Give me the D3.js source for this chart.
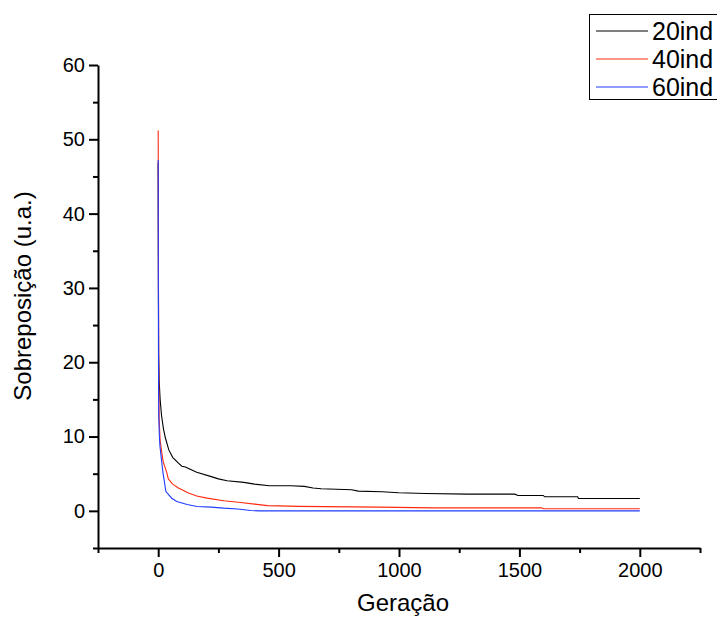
<!DOCTYPE html>
<html>
<head>
<meta charset="utf-8">
<script src="https://cdnjs.cloudflare.com/ajax/libs/d3/7.8.5/d3.min.js"></script>
<style>
  body { margin: 0; background: #fff; }
  text { font-family: "Liberation Sans", Arial, sans-serif; fill: #000; }
</style>
</head>
<body>
<div id="chart"></div>
<script>
// series data (geração, sobreposição)
var gen20 = [0, 1, 2, 4, 8, 14, 22, 30, 44, 60, 85, 98, 113, 133, 160, 217, 250, 286, 356, 400, 461, 552, 607, 643, 677, 803, 831, 929, 999, 1110, 1285, 1481, 1494, 1599, 1605, 1742, 1745, 2000];
var val20 = [46.8, 30, 21, 17.5, 15, 12.8, 11, 9.8, 8.2, 7.2, 6.4, 6.0, 5.9, 5.6, 5.2, 4.64, 4.3, 4.05, 3.83, 3.6, 3.38, 3.38, 3.29, 3.07, 2.97, 2.84, 2.66, 2.57, 2.43, 2.34, 2.25, 2.25, 2.07, 2.07, 1.89, 1.89, 1.66, 1.66];

var gen40 = [0, 1, 2, 4, 8, 15, 21, 36, 42, 60, 84, 126, 160, 203, 272, 342, 400, 454, 586, 915, 1145, 1592, 1600, 2000];
var val40 = [51.2, 32, 20, 12.3, 9.5, 7.8, 6.6, 5.1, 4.3, 3.6, 3.07, 2.39, 2.0, 1.71, 1.35, 1.12, 0.9, 0.7, 0.6, 0.5, 0.4, 0.4, 0.28, 0.28];

var gen60 = [0, 1, 2, 5, 7, 11, 20, 32, 56, 77, 120, 161, 220, 272, 330, 384, 420, 2000];
var val60 = [47.2, 22, 13, 10, 8.8, 7.6, 5.1, 2.6, 1.7, 1.26, 0.85, 0.58, 0.5, 0.36, 0.25, 0.04, 0, 0];

var seriesNames = ["20ind", "40ind", "60ind"];
var seriesColors = ["#000000", "#ff2a10", "#1f3cff"];

var xTicksMajor = [0, 500, 1000, 1500, 2000];
var xTicksMinor = [-250, 250, 750, 1250, 1750, 2250];
var yTicksMajor = [0, 10, 20, 30, 40, 50, 60];
var yTicksMinor = [-5, 5, 15, 25, 35, 45, 55];

var series = [
  d3.zip(gen20, val20),
  d3.zip(gen40, val40),
  d3.zip(gen60, val60)
];

var svg = d3.select("#chart").append("svg")
    .attr("width", 717)
    .attr("height", 618);

var x = d3.scaleLinear().domain([-250, 2250]).range([98, 700]);
var y = d3.scaleLinear().domain([-5, 60]).range([548, 65]);

// lines
var line = d3.line()
    .x(function(d) { return x(d[0]); })
    .y(function(d) { return y(d[1]); });

svg.selectAll(".serie")
    .data(series)
  .enter().append("path")
    .attr("class", "serie")
    .attr("d", line)
    .attr("fill", "none")
    .attr("stroke", function(d, i) { return seriesColors[i]; })
    .attr("stroke-width", 1.1);

// x axis
var xAxis = svg.append("g").attr("transform", "translate(0,548)");
xAxis.call(d3.axisBottom(x).tickValues(xTicksMajor).tickFormat(d3.format("d"))
    .tickSize(9).tickSizeOuter(0).tickPadding(6));
xAxis.append("g")
    .call(d3.axisBottom(x).tickValues(xTicksMinor).tickSize(5).tickFormat(""))
    .select(".domain").remove();

// y axis
var yAxis = svg.append("g").attr("transform", "translate(98,0)");
yAxis.call(d3.axisLeft(y).tickValues(yTicksMajor).tickSize(9).tickSizeOuter(0).tickPadding(4));
yAxis.append("g")
    .call(d3.axisLeft(y).tickValues(yTicksMinor).tickSize(5).tickFormat(""))
    .select(".domain").remove();

svg.selectAll(".domain, .tick line")
    .attr("stroke", "#000")
    .attr("stroke-width", 2);
svg.selectAll(".tick text")
    .style("font-family", "'Liberation Sans', Arial, sans-serif")
    .style("font-size", "20px");

// axis titles
svg.append("text")
    .attr("x", 403)
    .attr("y", 611)
    .attr("text-anchor", "middle")
    .style("font-size", "24px")
    .text("Geração");

svg.append("text")
    .attr("transform", "translate(31,296) rotate(-90)")
    .attr("text-anchor", "middle")
    .style("font-size", "24px")
    .text("Sobreposição (u.a.)");

// legend
var legend = svg.append("g");
legend.append("rect")
    .attr("x", 589.5)
    .attr("y", 14.5)
    .attr("width", 140)
    .attr("height", 85)
    .attr("fill", "#fff")
    .attr("stroke", "#000")
    .attr("stroke-width", 1);

var items = legend.selectAll(".item")
    .data(seriesNames)
  .enter().append("g")
    .attr("class", "item")
    .attr("transform", function(d, i) { return "translate(0," + (31 + i * 28) + ")"; });

items.append("line")
    .attr("x1", 596)
    .attr("x2", 648)
    .attr("stroke", function(d, i) { return seriesColors[i]; })
    .attr("stroke-width", 1.2);

items.append("text")
    .attr("x", 652)
    .attr("dy", "0.36em")
    .style("font-size", "25px")
    .text(function(d) { return d; });
</script>
</body>
</html>
